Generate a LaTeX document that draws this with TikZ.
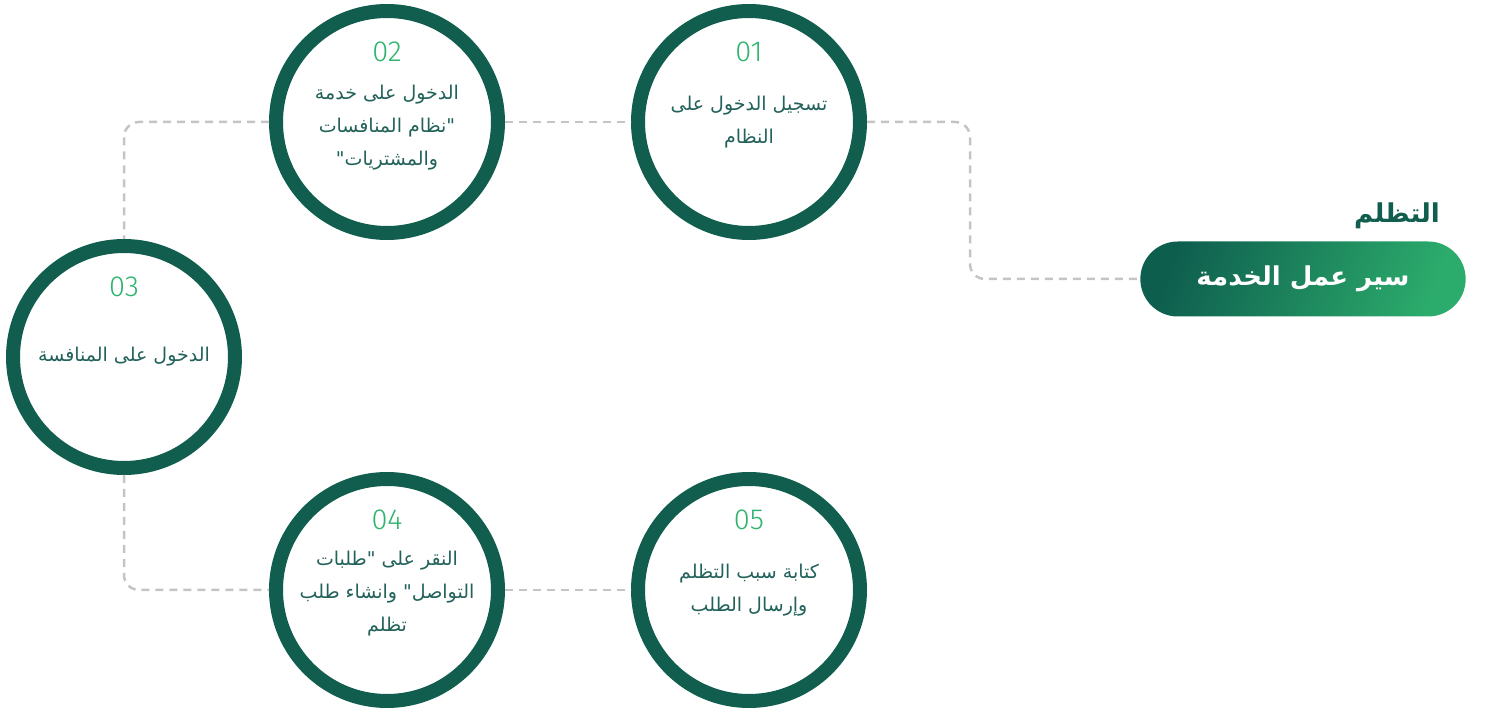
\documentclass[tikz,border=0pt]{standalone}
\usepackage{fontspec}
\usepackage{xcolor}
\usetikzlibrary{positioning,shapes.misc}
\TeXXeTstate=1
\newfontfamily\arabicfont[Script=Arabic]{DejaVu Sans}
\newfontfamily\numfont{Fira Sans Light}
\definecolor{ringgreen}{RGB}{17,94,79}
\definecolor{numgreen}{RGB}{46,180,110}
\definecolor{textteal}{RGB}{34,98,90}
\definecolor{dashgrey}{RGB}{196,196,200}
\definecolor{pilldark}{RGB}{14,94,78}
\definecolor{pilllight}{RGB}{44,172,108}
\tikzset{
  stepring/.style={circle, draw=ringgreen, line width=14pt, minimum size=222pt,
    inner sep=0pt, fill=white, align=center, text=textteal,
    font=\arabicfont\fontsize{19}{33}\selectfont},
  stepnum/.style={inner sep=0pt, text=numgreen, font=\numfont\fontsize{29}{29}\selectfont},
  link/.style={draw=dashgrey, line width=2.5pt, dash pattern=on 8pt off 6pt,
    rounded corners=15pt},
  flowbox/.style={rounded rectangle, minimum width=332pt, minimum height=75pt,
    left color=pilldark, right color=pilllight, shading angle=70, text=white,
    font=\arabicfont\bfseries\fontsize{26}{30}\selectfont},
  headline/.style={inner sep=0pt, text=ringgreen,
    font=\arabicfont\bfseries\fontsize{26}{30}\selectfont}
}

\begin{document}
\begin{tikzpicture}[x=1pt, y=1pt]
\useasboundingbox (0,0) rectangle (1492,715);

\node[stepring] (c1) at (749,593) {\beginR تسجيل الدخول على\endR\\\beginR النظام\endR};
\node[stepring] (c2) at (387,593) {\\[-8pt]\beginR الدخول على خدمة\endR\\\beginR "نظام المنافسات\endR\\\beginR والمشتريات"\endR};
\node[stepring] (c3) at (124,358) {\beginR الدخول على المنافسة\endR};
\node[stepring] (c4) at (387,125) {\\[-12pt]\beginR النقر على "طلبات\endR\\\beginR التواصل" وانشاء طلب\endR\\\beginR تظلم\endR};
\node[stepring] (c5) at (749,125) {\beginR كتابة سبب التظلم\endR\\\beginR وإرسال الطلب\endR};

\node[stepnum, above=60pt of c1.center, anchor=base] (n1) {01};
\node[stepnum, above=60pt of c2.center, anchor=base] (n2) {02};
\node[stepnum, above=60pt of c3.center, anchor=base] (n3) {03};
\node[stepnum, above=60pt of c4.center, anchor=base] (n4) {04};
\node[stepnum, above=60pt of c5.center, anchor=base] (n5) {05};

\node[flowbox] (pill) at (1303,436) {\beginR سير عمل الخدمة\endR};
\node[headline, anchor=base east] (title) at (1440,492) {\beginR التظلم\endR};

\coordinate (bend) at (970,500);

\draw[link] (c2.east) -- (c1.west);
\draw[link] (c1.east) -| (bend) |- (pill.west);
\draw[link] (c2.west) -| (c3.north);
\draw[link] (c3.south) |- (c4.west);
\draw[link] (c4.east) -- (c5.west);
\end{tikzpicture}
\end{document}
